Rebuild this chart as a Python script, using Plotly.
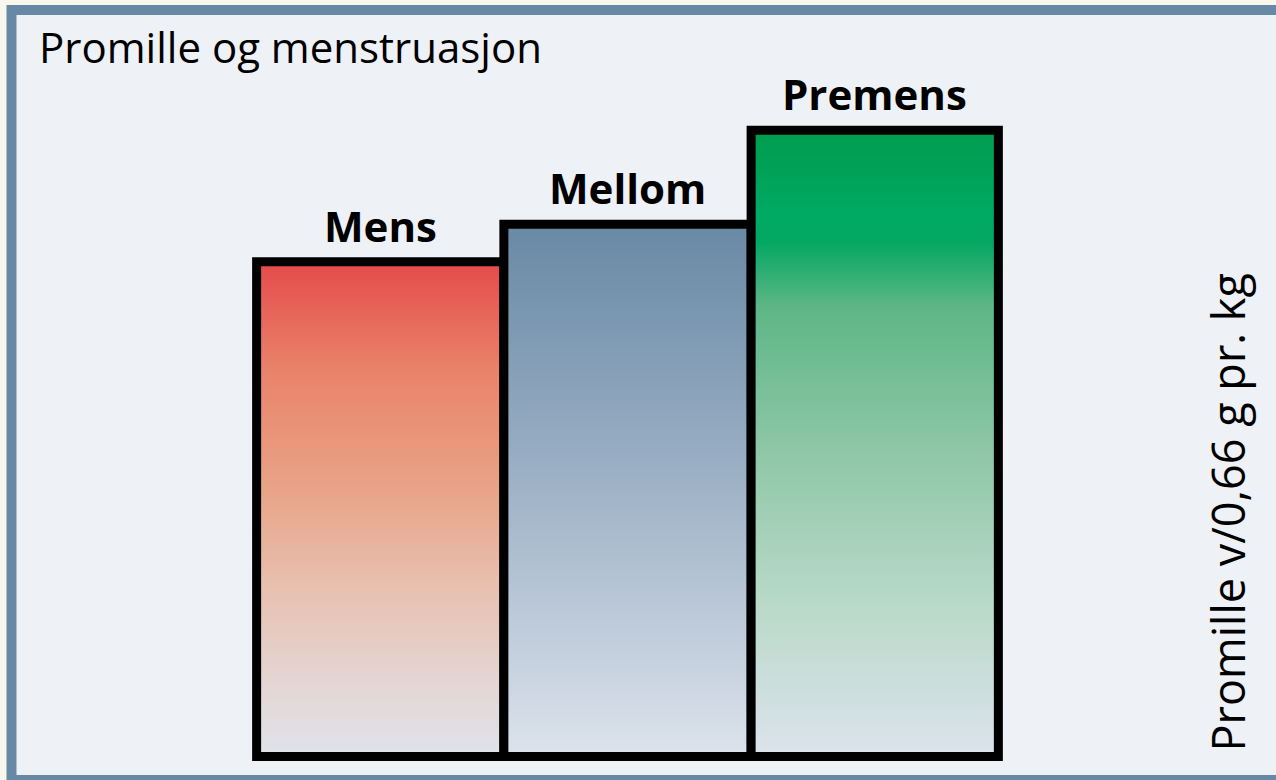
import plotly.graph_objects as go

categories = ["Mens", "Mellom", "Premens"]
values = [0.79, 0.85, 1.0]
title_text = "Promille og menstruasjon"
axis_title = "Promille v/0,66 g pr. kg"

gradients = [
    [[0, "#dfe3ea"], [0.15, "#e4d6d4"], [0.35, "#e8bfae"], [0.55, "#e9a285"], [0.78, "#e9836a"], [1, "#e54b4a"]],
    [[0, "#dce3ec"], [0.3, "#b8c6d6"], [0.6, "#94aac0"], [1, "#6889a5"]],
    [[0, "#dce3ec"], [0.25, "#b8d9c8"], [0.5, "#8cc6a5"], [0.72, "#5db686"], [0.82, "#04a862"], [0.86, "#00aa63"], [1, "#009c4e"]],
]

FONT = "Open Sans"
W, H = 1276, 780

fig = go.Figure()
for i, (cat, val) in enumerate(zip(categories, values)):
    x0, x1 = i - 0.5, i + 0.5
    fig.add_trace(go.Scatter(
        x=[x0, x0, x1, x1, x0, x0],
        y=[0, val, val, 0, 0, val],
        mode="lines",
        fill="toself",
        fillgradient=dict(type="vertical", colorscale=gradients[i]),
        line=dict(color="black", width=9),
        showlegend=False,
        hoverinfo="skip",
        name=cat,
    ))
    fig.add_annotation(
        x=i, y=val, xref="x", yref="y",
        text=f"<b>{cat}</b>", showarrow=False,
        yanchor="bottom", xanchor="center", yshift=6,
        font=dict(family=FONT, size=42, color="black"),
    )

# frame
fig.add_shape(type="rect", xref="paper", yref="paper",
              x0=11.5 / W, x1=1.02, y0=0, y1=1 - 10 / H,
              line=dict(color="#6889a5", width=10),
              fillcolor="#eef1f6", layer="below")

fig.add_annotation(
    x=37 / W, y=1 - 16 / H, xref="paper", yref="paper",
    text=title_text, showarrow=False, xanchor="left", yanchor="top",
    font=dict(family=FONT, size=42, color="black"),
)
fig.add_annotation(
    x=1227 / W, y=1 - 512.5 / H, xref="paper", yref="paper",
    text=axis_title, showarrow=False, xanchor="center", yanchor="middle",
    textangle=-90,
    font=dict(family=FONT, size=45, color="black"),
)

fig.update_layout(
    width=W, height=H,
    margin=dict(l=0, r=0, t=0, b=0),
    paper_bgcolor="#f9f7ec",
    plot_bgcolor="rgba(0,0,0,0)",
    xaxis=dict(visible=False, range=[-1.5379, 3.6229], fixedrange=True),
    yaxis=dict(visible=False, range=[-0.0375, 1.2081], fixedrange=True),
    showlegend=False,
)

fig.write_html(
    "out.html",
    config={"displayModeBar": False},
    post_script="document.body.style.margin='0';document.body.style.overflow='hidden';",
)
